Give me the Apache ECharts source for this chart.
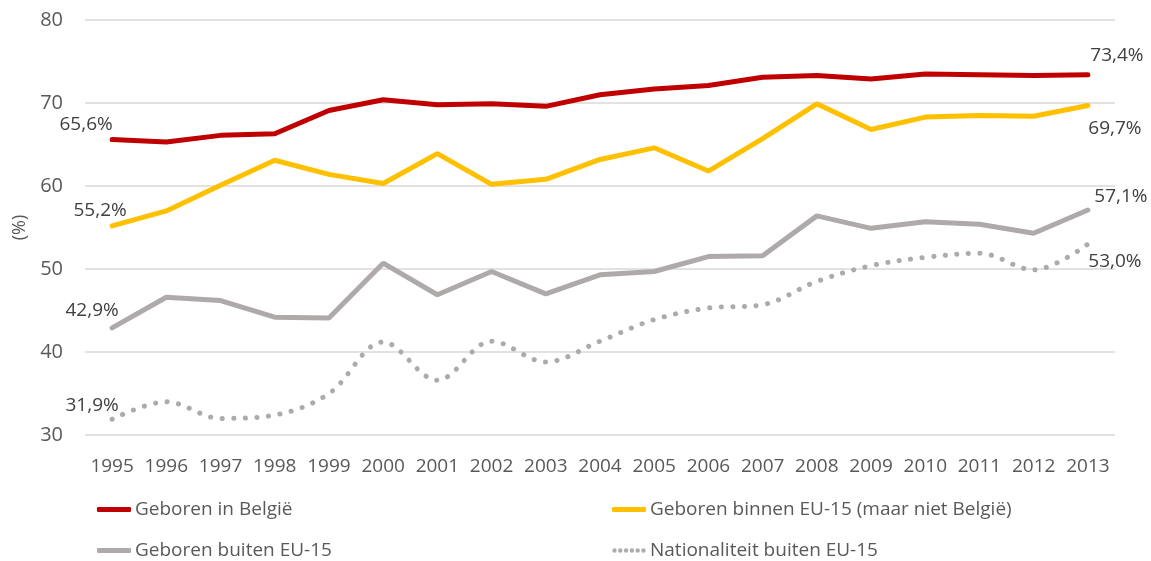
<!DOCTYPE html>
<html>
<head>
<meta charset="utf-8">
<script src="https://cdn.jsdelivr.net/npm/echarts@6/dist/echarts.min.js"></script>
<style>
html,body{margin:0;padding:0;background:#fff;}
#c{width:1151px;height:561px;}
</style>
</head>
<body>
<div id="c"></div>
<script>
const years = ['1995','1996','1997','1998','1999','2000','2001','2002','2003','2004','2005','2006','2007','2008','2009','2010','2011','2012','2013'];
const belgie = [65.6,65.3,66.1,66.3,69.1,70.4,69.8,69.9,69.6,71.0,71.7,72.1,73.1,73.3,72.9,73.5,73.4,73.3,73.4];
const binnenEU = [55.2,57.0,60.1,63.1,61.4,60.3,63.9,60.2,60.8,63.2,64.6,61.8,65.7,69.9,66.8,68.3,68.5,68.4,69.7];
const buitenEU = [42.9,46.6,46.2,44.2,44.1,50.7,46.9,49.7,47.0,49.3,49.7,51.5,51.6,56.4,54.9,55.7,55.4,54.3,57.1];
const nationaliteit = [31.9,34.0,32.0,32.4,35.0,41.2,36.6,41.3,38.8,41.3,43.9,45.3,45.7,48.5,50.4,51.4,51.9,49.9,53.0];
const seriesNames = ['Geboren in België','Geboren binnen EU-15 (maar niet België)','Geboren buiten EU-15','Nationaliteit buiten EU-15'];
const yTicks = [30,40,50,60,70,80];

const FONT = '"Open Sans", "Noto Sans", sans-serif';
const TXT = '#595959';
const LBL = '#404040';

function fmt(v){ return v.toFixed(1).replace('.', ',') + '%'; }

function withEndLabels(arr, first, last){
  const base = {show:true, color:LBL, fontSize:19, fontFamily:FONT};
  return arr.map((v,i)=>{
    if(i===0) return {value:v, label:Object.assign({formatter:fmt(v)}, base, first)};
    if(i===arr.length-1) return {value:v, label:Object.assign({formatter:fmt(v)}, base, last)};
    return v;
  });
}

const colors = ['#C00000','#FFC000','#AEAAAA','#AEAAAA'];

// dotted legend icon: six small dots
let dots = '';
for(let i=0;i<6;i++){ const cx = 2.5 + i*5.8; dots += 'M'+(cx-2.2)+',2.5a2.2,2.2 0 1,0 4.4,0a2.2,2.2 0 1,0 -4.4,0Z '; }
const dotIcon = 'path://' + dots + 'M0,0.2L0.01,0.2M34,4.8L34.01,4.8';

const chart = echarts.init(document.getElementById('c'));
const legendBase = {itemWidth:34, itemHeight:5, itemGap:4, textStyle:{color:TXT, fontSize:19, fontFamily:FONT, padding:[0,0,0,-1]}};
chart.setOption({
  animation:false,
  grid:{left:85, right:36, top:20, bottom:126},
  xAxis:{
    type:'category', data:years, boundaryGap:true,
    axisLine:{show:false}, axisTick:{show:false},
    axisLabel:{color:TXT, fontSize:19, fontFamily:FONT, margin:22, interval:0}
  },
  yAxis:{
    type:'value', min:yTicks[0], max:yTicks[yTicks.length-1], interval:10,
    name:'(%)', nameLocation:'middle', nameGap:52, nameRotate:90,
    nameTextStyle:{color:TXT, fontSize:18, fontFamily:FONT},
    axisLine:{show:false}, axisTick:{show:false},
    axisLabel:{color:TXT, fontSize:20, fontFamily:FONT, margin:22},
    splitLine:{lineStyle:{color:'#D9D9D9', width:1.5}}
  },
  legend:[
    Object.assign({data:[{name:seriesNames[0], icon:'roundRect'}], left:92, top:495}, legendBase),
    Object.assign({data:[{name:seriesNames[1], icon:'roundRect'}], left:607, top:495}, legendBase),
    Object.assign({data:[{name:seriesNames[2], icon:'roundRect'}], left:92, top:536}, legendBase),
    Object.assign({data:[{name:seriesNames[3], icon:dotIcon}], left:607, top:536}, legendBase)
  ],
  series:[
    {name:seriesNames[0], type:'line', data:withEndLabels(belgie,{position:'top',offset:[-26,0]},{position:'top',offset:[29,-5]}),
      symbol:'circle', symbolSize:0, showSymbol:true, lineStyle:{color:colors[0], width:5, cap:'round'}, itemStyle:{color:colors[0]}},
    {name:seriesNames[1], type:'line', data:withEndLabels(binnenEU,{position:'top',offset:[-12,-1]},{position:'bottom',offset:[27,9]}),
      symbol:'circle', symbolSize:0, showSymbol:true, lineStyle:{color:colors[1], width:5, cap:'round'}, itemStyle:{color:colors[1]}},
    {name:seriesNames[2], type:'line', data:withEndLabels(buitenEU,{position:'top',offset:[-20,-3]},{position:'top',offset:[33,1]}),
      symbol:'circle', symbolSize:0, showSymbol:true, lineStyle:{color:colors[2], width:5, cap:'round'}, itemStyle:{color:colors[2]}},
    {name:seriesNames[3], type:'line', smooth:0.35, data:withEndLabels(nationaliteit,{position:'top',offset:[-20,1]},{position:'bottom',offset:[27,3]}),
      symbol:'circle', symbolSize:0, showSymbol:true, lineStyle:{color:colors[3], width:5, cap:'round', type:[0.1,11.5]}, itemStyle:{color:colors[3]}}
  ]
});
</script>
</body>
</html>
